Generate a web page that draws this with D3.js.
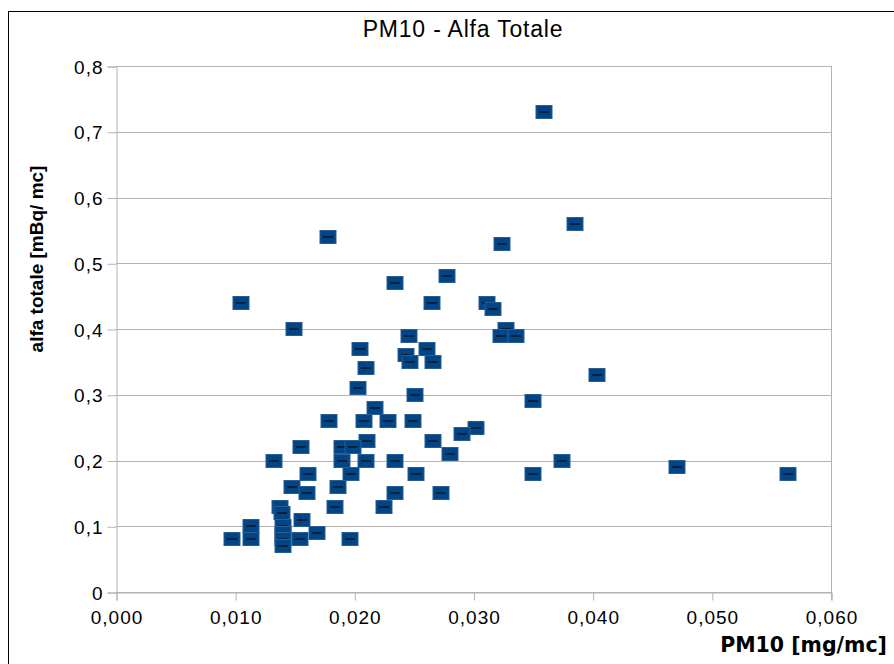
<!DOCTYPE html>
<html>
<head>
<meta charset="utf-8">
<script src="https://cdn.jsdelivr.net/npm/d3@7"></script>
<style>
  body { margin: 0; background: #fff; }
  svg { display: block; }
</style>
</head>
<body>
<div id="chart"></div>
<script>
// PM10 [mg/mc] vs alfa totale [mBq/mc]
const pm10 = [
    0.0359, 0.0385, 0.0178, 0.0324, 0.0278, 0.0234, 0.0105, 0.0265, 0.0311, 0.0316,
    0.0149, 0.0327, 0.0246, 0.0323, 0.0336, 0.0205, 0.0261, 0.0243, 0.0247, 0.0266,
    0.0210, 0.0404, 0.0203, 0.0251, 0.0350, 0.0217, 0.0179, 0.0208, 0.0228, 0.0249,
    0.0302, 0.0290, 0.0211, 0.0266, 0.0155, 0.0190, 0.0199, 0.0280, 0.0133, 0.0190,
    0.0210, 0.0234, 0.0374, 0.0471, 0.0564, 0.0161, 0.0197, 0.0252, 0.0350, 0.0148,
    0.0186, 0.0160, 0.0234, 0.0273, 0.0138, 0.0184, 0.0225, 0.0139, 0.0156, 0.0113,
    0.0140, 0.0140, 0.0169, 0.0097, 0.0113, 0.0140, 0.0154, 0.0196, 0.0140
];
const alfa = [
    0.73, 0.56, 0.54, 0.53, 0.48, 0.47, 0.44, 0.44, 0.44, 0.43,
    0.40, 0.40, 0.39, 0.39, 0.39, 0.37, 0.37, 0.36, 0.35, 0.35,
    0.34, 0.33, 0.31, 0.30, 0.29, 0.28, 0.26, 0.26, 0.26, 0.26,
    0.25, 0.24, 0.23, 0.23, 0.22, 0.22, 0.22, 0.21, 0.20, 0.20,
    0.20, 0.20, 0.20, 0.19, 0.18, 0.18, 0.18, 0.18, 0.18, 0.16,
    0.16, 0.15, 0.15, 0.15, 0.13, 0.13, 0.13, 0.12, 0.11, 0.10,
    0.10, 0.09, 0.09, 0.08, 0.08, 0.08, 0.08, 0.08, 0.07
];
const xTicks = [0, 0.01, 0.02, 0.03, 0.04, 0.05, 0.06];
const yTicks = [0, 0.1, 0.2, 0.3, 0.4, 0.5, 0.6, 0.7, 0.8];

const width = 894, height = 664;
const plotLeft = 116, plotRight = 831, plotTop = 66, plotBottom = 592;

const svg = d3.select("#chart").append("svg")
    .attr("width", width)
    .attr("height", height);

// outer frame (only top and left visible in the picture)
svg.append("rect")
    .attr("x", 8.5).attr("y", 11.5)
    .attr("width", width + 20).attr("height", height + 20)
    .attr("fill", "none")
    .attr("stroke", "#000")
    .attr("stroke-width", 1);

const x = d3.scaleLinear().domain([0, 0.06]).range([plotLeft, plotRight]);
const y = d3.scaleLinear().domain([0, 0.8]).range([plotBottom, plotTop]);

const comma = s => s.replace(".", ",");

// horizontal grid
svg.append("g")
    .selectAll("line")
    .data(yTicks)
    .enter()
    .append("line")
    .attr("x1", plotLeft).attr("x2", plotRight)
    .attr("y1", d => Math.round(y(d)) + 0.5)
    .attr("y2", d => Math.round(y(d)) + 0.5)
    .attr("stroke", "#b3b3b3");

// right border of plot area
svg.append("line")
    .attr("x1", plotRight + 0.5).attr("x2", plotRight + 0.5)
    .attr("y1", plotTop).attr("y2", plotBottom + 8)
    .attr("stroke", "#b3b3b3");

const yAxis = svg.append("g")
    .attr("transform", "translate(" + (plotLeft + 0.5) + ",0.5)")
    .call(d3.axisLeft(y).tickValues(yTicks).tickSize(9).tickPadding(4)
        .tickFormat(d => d === 0 ? "0" : comma(d3.format(".1f")(d))));

const xAxis = svg.append("g")
    .attr("transform", "translate(0.5," + (plotBottom + 0.5) + ")")
    .call(d3.axisBottom(x).tickValues(xTicks).tickSize(8).tickPadding(10)
        .tickFormat(d => comma(d3.format(".3f")(d))));

[yAxis, xAxis].forEach(g => {
    g.select(".domain").attr("stroke", "#b3b3b3");
    g.selectAll(".tick line").attr("stroke", "#b3b3b3");
    g.selectAll(".tick text")
        .attr("fill", "#000")
        .style("font-family", "'Liberation Sans', Arial, sans-serif")
        .style("font-size", "19px")
        .style("letter-spacing", "1px");
});
yAxis.selectAll(".tick text").attr("dy", "0.35em");

// points
const pts = pm10.map((v, i) => ({ x: v, y: alfa[i] }));
const mw = 16, mh = 13;

const marks = svg.append("g")
    .selectAll("g")
    .data(pts)
    .enter()
    .append("g")
    .attr("transform", d => "translate(" + Math.round(x(d.x)) + "," + Math.round(y(d.y)) + ")");

marks.append("rect")
    .attr("x", -mw / 2).attr("y", -mh / 2)
    .attr("width", mw).attr("height", mh)
    .attr("fill", "#004586")
    .attr("stroke", "#2b5d91")
    .attr("stroke-width", 1);

marks.append("line")
    .attr("x1", -5).attr("x2", 5)
    .attr("y1", 0).attr("y2", 0)
    .attr("stroke", "#0b1420")
    .attr("stroke-width", 1.5);

// title
svg.append("text")
    .attr("x", 463).attr("y", 37)
    .attr("text-anchor", "middle")
    .style("font-family", "'Liberation Sans', Arial, sans-serif")
    .style("font-size", "23px")
    .style("letter-spacing", "0.8px")
    .text("PM10 - Alfa Totale");

// axis titles
svg.append("text")
    .attr("transform", "translate(43,259) rotate(-90)")
    .attr("text-anchor", "middle")
    .style("font-family", "'Liberation Sans', Arial, sans-serif")
    .style("font-weight", "bold")
    .style("font-size", "19px")
    .text("alfa totale [mBq/ mc]");

svg.append("text")
    .attr("x", 887).attr("y", 652)
    .attr("text-anchor", "end")
    .style("font-family", "'DejaVu Sans', sans-serif")
    .style("font-weight", "bold")
    .style("font-size", "20.5px")
    .text("PM10 [mg/mc]");
</script>
</body>
</html>
